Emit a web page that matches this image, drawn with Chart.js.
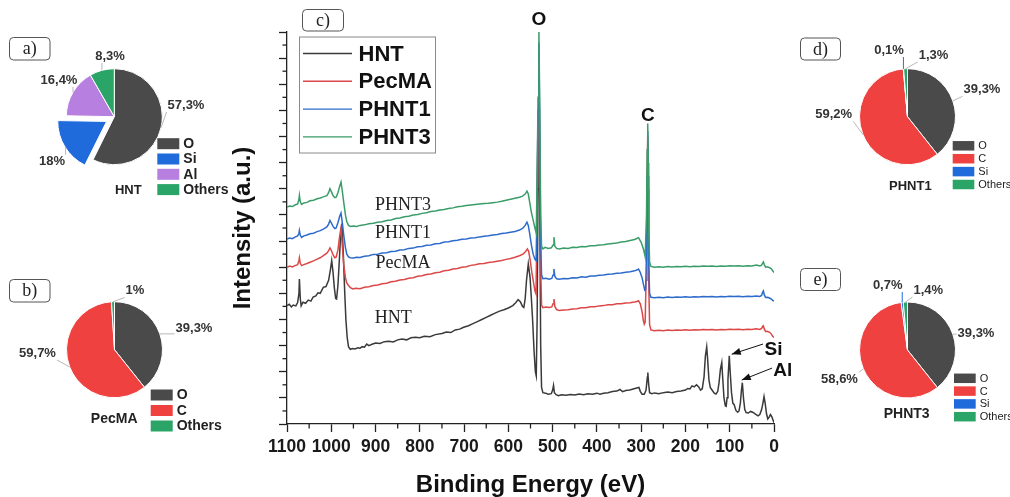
<!DOCTYPE html>
<html><head><meta charset="utf-8">
<script src="https://cdn.jsdelivr.net/npm/chart.js@4.4.0/dist/chart.umd.min.js"></script>
<style>
html,body{margin:0;padding:0;background:#fff;}
#wrap{position:relative;width:1010px;height:497px;overflow:hidden;background:#fff;}
canvas{position:absolute;}
</style></head><body>
<div id="wrap">
<canvas id="main" width="1010" height="497" style="left:0;top:0"></canvas>
<canvas id="pa" width="230" height="240" style="left:0;top:0"></canvas>
<canvas id="pb" width="230" height="247" style="left:0;top:250px"></canvas>
<canvas id="pd" width="220" height="250" style="left:790px;top:0"></canvas>
<canvas id="pe" width="220" height="247" style="left:790px;top:250px"></canvas>
</div>
<script>
// ---------------- XPS survey spectra: [binding energy (eV), intensity (a.u.)] ----------------
const hnt = [[1100,45.3],[1095,45.8],[1090,44.8],[1086,45.5],[1080,45.2],[1076,46.5],[1073,50],[1072,55.5],[1070,48],[1068,45.2],[1064,46.6],[1058,46.2],[1052,47.4],[1046,47],[1041,48.6],[1035,49],[1030,50.2],[1025,50],[1018,52.3],[1012,52.6],[1006,55],[1002,59],[999,62.5],[996,58],[993,52],[990,48],[988,47.8],[985,53],[982,62],[979,72],[976,76.6],[973,66],[970,52],[967,40],[964,33],[961,29.5],[957,28.6],[952,28.9],[946,28.7],[940,29.2],[935,29],[930,29.6],[925,29.4],[920,30.6],[915,30],[908,30.5],[900,31],[890,30.8],[880,31.5],[870,31.7],[860,31.4],[850,32.2],[840,32.5],[830,32.2],[820,33],[810,33.2],[800,33],[790,33.6],[777,33.4],[765,34.2],[750,34.6],[740,35.2],[730,35],[720,36],[710,36.3],[701,37],[690,37.6],[680,38.4],[670,39.2],[660,40],[650,40.8],[640,41.6],[630,42.4],[620,43.2],[610,43.7],[600,44.4],[590,45.3],[583,46.5],[578,47.6],[573,46.8],[568,45],[565,44.6],[562,48],[559,55],[555,61.3],[551,56],[548,48],[545,39],[542,28],[539,20],[537,18.4],[535,40],[533,90],[531,135],[529,80],[527,30],[525,14],[522,12],[516,11.8],[510,11.4],[503,11.6],[500,13],[498,14.8],[496,12],[492,11.2],[487,10.8],[480,11.2],[470,11],[460,11.3],[450,11.1],[440,11.5],[430,11.2],[420,11.6],[410,11.4],[400,11.8],[393,11.4],[385,11.8],[375,12],[365,12.4],[355,12.6],[348,13.2],[342,12.4],[335,12.8],[326,13],[318,13.4],[310,13.8],[305,14],[302,12.5],[298,11.4],[293,11.4],[289,13],[286,18],[285,19.7],[283,15],[281,12],[276,11.6],[270,11.9],[260,11.6],[250,12],[240,12.2],[230,12],[220,12.4],[210,12.6],[200,13],[195,13.6],[190,13.4],[185,14.6],[180,14.2],[175,15],[170,14.2],[166,13],[162,13.5],[158,18],[155,26],[152,29.5],[150,25],[147,17],[144,14],[140,13],[135,11.8],[131,11.5],[127,12.5],[124,16],[121,21],[118,23.5],[116,18],[113,10],[110,7],[108,6.8],[106,10],[104,17],[101,26.1],[99,20],[96,12],[93,8],[90,7.4],[86,5.2],[82,4.5],[79,5],[76,8],[73.5,13],[71.5,15.8],[69,10],[66,5.5],[63,4.4],[58,4.2],[53,4.8],[47,4.4],[42,3.8],[36,3.1],[32,3.6],[28,5.5],[25,8],[22.5,10.5],[20,8],[17,4],[14,1.9],[11,2.6],[8,3.6],[5,2.8],[2,1.4],[0,0.5]];

const pecma = [[1100,60],[1094,60.4],[1088,60.1],[1082,60.6],[1076,61],[1073,62.5],[1072,63.6],[1070,61.5],[1067,60.6],[1062,61],[1055,61.4],[1048,61.9],[1040,62.4],[1032,63.1],[1025,63.6],[1018,64.4],[1010,65.4],[1006,66.3],[1003,67.4],[1000,66.5],[996,64.8],[992,63.6],[989,63.8],[985,66.5],[981,72],[978,75],[975,68],[972,61],[968,56],[965,54],[961,53],[957,52.2],[951,51.7],[945,51.9],[935,51.8],[925,52.3],[915,52.5],[905,53],[895,53.2],[885,53.7],[875,53.9],[865,54.4],[855,54.6],[845,55.1],[835,55.3],[825,55.8],[815,56],[805,56.5],[795,56.7],[785,57.2],[775,57.4],[765,57.9],[755,58.1],[745,58.6],[735,58.8],[725,59.3],[715,59.5],[705,60],[695,60.2],[685,60.7],[675,60.9],[665,61.3],[655,61.4],[645,61.8],[635,62],[625,62.3],[615,62.6],[605,63],[595,63.3],[585,63.8],[575,64.4],[566,65.1],[561,66],[557,67],[554,66],[551,63],[547,58],[543,54],[540,51],[537.5,49.8],[535,85],[533,115],[531,142],[529,100],[527,60],[525,45.5],[522,44.5],[515,44.8],[508,44.6],[502,44.8],[499,46],[497,47.8],[495,45],[491,43.8],[485,43.4],[475,43.6],[465,43.7],[455,44],[445,44.1],[435,44.5],[425,44.5],[415,44.9],[405,44.9],[395,45.2],[385,45.3],[375,45.6],[365,45.6],[355,46],[345,46],[335,46.3],[325,46.4],[315,46.7],[310,46.9],[306,47.2],[302,46],[298,43],[295,39.5],[293,38.2],[291,39],[289,55],[287,90],[285.2,110],[284,90],[283,55],[281,38],[278,36],[270,35.7],[260,35.9],[250,35.7],[240,36],[230,35.8],[220,36],[210,35.9],[200,36.1],[190,35.9],[180,36.1],[170,36],[160,36.2],[150,36.1],[140,36.2],[130,36],[120,36.2],[110,36.1],[100,36.3],[90,36.2],[80,36.3],[70,36.1],[60,36.3],[50,36.2],[40,36.4],[32,36.2],[28,36.6],[25.5,37.4],[24,37.6],[22,36.4],[19,35.4],[15,35.5],[10,35.1],[6,34.4],[3,33.6],[0,33.1]];

const phnt1 = [[1100,70.8],[1094,71.2],[1088,70.9],[1082,71.5],[1076,72],[1073,73],[1072,74],[1070,72.2],[1067,71.4],[1062,72],[1055,72.3],[1048,72.8],[1040,73],[1032,73.6],[1025,74],[1018,74.6],[1010,75.4],[1006,76.5],[1003,77.9],[1000,77],[996,75.6],[992,74.8],[989,75],[985,77],[981,79.5],[978,80.7],[975,77],[972,72.5],[968,67.5],[965,65],[961,63.9],[957,63.6],[950,63.5],[943,63.8],[935,63.7],[925,64.2],[915,64.4],[905,64.9],[895,65],[885,65.4],[875,65.5],[865,66],[855,66.1],[845,66.6],[835,66.7],[825,67.2],[815,67.3],[805,67.8],[795,67.9],[785,68.4],[775,68.5],[765,69],[755,69.1],[745,69.6],[735,69.7],[725,70.1],[715,70.3],[705,70.7],[695,70.8],[685,71.2],[675,71.3],[665,71.6],[655,71.8],[645,72],[635,72.3],[625,72.5],[615,72.9],[605,73.1],[595,73.4],[585,73.7],[575,74.2],[568,74.8],[562,76],[558,77.2],[555,76],[552,73],[548,68.5],[544,65],[540,63],[537,62.5],[535,90],[533,120],[531,146],[529,110],[527,70],[525,57],[522,55.6],[515,55.8],[508,55.4],[502,55.7],[499,57],[497,59.3],[495,56.5],[491,55.6],[485,55.4],[475,55.7],[465,55.6],[455,56],[445,55.9],[435,56.3],[425,56.2],[415,56.6],[405,56.6],[395,56.9],[385,57],[375,57.3],[365,57.4],[355,57.7],[345,57.8],[335,58.1],[325,58.3],[315,58.6],[310,58.9],[306,59.3],[302,58],[298,56],[295,53.5],[292,51.2],[290,51.5],[288,65],[286.5,95],[285.2,112],[284,95],[283,62],[281,50],[278,48.5],[270,48.3],[260,48.5],[250,48.3],[240,48.6],[230,48.4],[220,48.6],[210,48.5],[200,48.7],[190,48.5],[180,48.7],[170,48.6],[160,48.8],[150,48.7],[140,48.8],[130,48.6],[120,48.8],[110,48.7],[100,48.9],[90,48.8],[80,48.9],[70,48.7],[60,48.9],[50,48.8],[40,49],[32,48.8],[28,49.2],[25.5,50.5],[24,50.9],[22,49.5],[19,48.4],[15,48.5],[10,48.2],[6,47.8],[3,47.3],[0,47]];

const phnt3 = [[1100,83],[1094,83.4],[1088,83.2],[1082,83.8],[1076,84.2],[1073,86],[1072,87.5],[1070,85],[1067,84],[1062,84.6],[1055,84.8],[1048,85.4],[1040,85.6],[1032,86.2],[1025,86.5],[1018,86.9],[1010,87.4],[1006,88.5],[1003,90],[1000,89],[996,87.4],[992,86.6],[989,86.8],[985,88.5],[981,91],[978,92.6],[975,89],[972,85],[968,80],[965,77.5],[961,76],[957,75.6],[950,75.8],[943,75.6],[935,76],[925,76.2],[915,76.6],[905,76.8],[895,77.2],[885,77.4],[875,77.9],[865,78.1],[855,78.6],[845,78.8],[835,79.3],[825,79.5],[815,80],[805,80.2],[795,80.6],[785,80.8],[775,81.3],[765,81.5],[755,81.9],[745,82.1],[735,82.5],[725,82.7],[715,83.1],[705,83.3],[695,83.6],[685,83.8],[675,84],[665,84.2],[655,84.4],[645,84.5],[635,84.7],[625,84.9],[615,85.2],[605,85.6],[595,86],[585,86.4],[575,86.8],[568,87.2],[562,88],[558,89.1],[555,88],[552,85],[548,81],[544,78],[540,75],[537,73],[535,95],[533,125],[531,150],[529,120],[527,80],[525,68],[522,67],[517,67.6],[510,67.2],[503,67.4],[499,68.5],[497,71.5],[495,68],[491,67.2],[485,67],[475,67.3],[465,67.2],[455,67.6],[445,67.5],[435,67.9],[425,67.8],[415,68.2],[405,68.2],[395,68.5],[385,68.6],[375,68.9],[365,69.1],[355,69.3],[345,69.6],[335,69.8],[325,70.2],[315,70.6],[310,71],[306,71.3],[300,69.5],[295,67],[291,64],[288,80],[286.5,105],[285.2,115],[284,100],[283,75],[281,62],[278,60.3],[270,60],[260,60.2],[250,60],[240,60.3],[230,60.1],[220,60.3],[210,60.2],[200,60.4],[190,60.2],[180,60.4],[170,60.3],[160,60.5],[150,60.4],[140,60.5],[130,60.3],[120,60.5],[110,60.4],[100,60.6],[90,60.5],[80,60.6],[70,60.4],[60,60.6],[50,60.5],[40,60.8],[32,60.5],[28,60.8],[25.5,61.6],[24,62],[22,61],[19,60],[15,60.2],[10,59.8],[6,59.4],[3,58.6],[0,58]];

const seriesNames = ['HNT','PecMA','PHNT1','PHNT3'];
const seriesData = [hnt, pecma, phnt1, phnt3];
const energyMin = 0, energyMax = 1100, energyStep = 100;
const intensityMin = 0, intensityMax = 150, intensityStep = 10;

// annotations anchored in data coordinates [text, energy, intensity]
const peakLabels = [['O',531,154.5],['C',285,118]];
const curveLabels = [['PHNT3',838,83.8],['PHNT1',838,73.1],['PecMA',838,61.6],['HNT',860,40.6]];
const elementLabels = [['Si',1,28.3],['Al',-20,20.5]];
const elementArrows = [[24.8,30.6,95.5,26.7],[4.4,21.4,72.9,16.8]];

// ---------------- pie compositions ----------------
const hntPieLabels = ['O','Si','Al','Others'];
const hntPieValues = [57.3,18,16.4,8.3];
const pecmaPieLabels = ['O','C','Others'];
const pecmaPieValues = [39.3,59.7,1];
const phnt1PieLabels = ['O','C','Si','Others'];
const phnt1PieValues = [39.3,59.2,0.1,1.3];
const phnt3PieLabels = ['O','C','Si','Others'];
const phnt3PieValues = [39.3,58.6,0.7,1.4];

// ---------------- styles ----------------
const seriesColors = ['#3a3a3a','#dc4747','#2d6bcb','#3a9d69'];
const SANS = '"Liberation Sans", Arial, sans-serif';
const SERIF = '"Liberation Serif", "Times New Roman", serif';
const AXC = '#222';

const panelBoxes = [['a)',9.5,37.5,40.5,22.5],['b)',9.5,279.5,40.5,22.5],['c)',302.5,9.5,41,21.5],['d)',800.5,38,40,22],['e)',800.5,268.5,40,22]];

function roundRect(ctx,x,y,w,h,r){
  ctx.beginPath();
  ctx.moveTo(x+r,y); ctx.lineTo(x+w-r,y); ctx.quadraticCurveTo(x+w,y,x+w,y+r);
  ctx.lineTo(x+w,y+h-r); ctx.quadraticCurveTo(x+w,y+h,x+w-r,y+h);
  ctx.lineTo(x+r,y+h); ctx.quadraticCurveTo(x,y+h,x,y+h-r);
  ctx.lineTo(x,y+r); ctx.quadraticCurveTo(x,y,x+r,y); ctx.closePath();
}
function arrow(ctx,x1,y1,x2,y2){
  ctx.beginPath(); ctx.moveTo(x1,y1); ctx.lineTo(x2,y2); ctx.stroke();
  const a = Math.atan2(y2-y1,x2-x1), L=9, W=3.5;
  ctx.beginPath(); ctx.moveTo(x2,y2);
  ctx.lineTo(x2-L*Math.cos(a)+W*Math.sin(a), y2-L*Math.sin(a)-W*Math.cos(a));
  ctx.lineTo(x2-L*Math.cos(a)-W*Math.sin(a), y2-L*Math.sin(a)+W*Math.cos(a));
  ctx.closePath(); ctx.fill();
}

const mainDecor = {
  id:'mainDecor',
  afterDraw(chart){
    const ctx = chart.ctx, xs = chart.scales.x, ys = chart.scales.y, ca = chart.chartArea;
    ctx.save();
    // minor ticks
    ctx.strokeStyle = AXC; ctx.lineWidth = 1.3;
    for (let e = energyMin + energyStep/2; e < energyMax; e += energyStep){
      const px = xs.getPixelForValue(e);
      ctx.beginPath(); ctx.moveTo(px, ca.bottom); ctx.lineTo(px, ca.bottom+4.5); ctx.stroke();
    }
    for (let v = intensityMin + intensityStep/2; v < intensityMax; v += intensityStep){
      const py = ys.getPixelForValue(v);
      ctx.beginPath(); ctx.moveTo(ca.left-4.5, py); ctx.lineTo(ca.left, py); ctx.stroke();
    }
    // peak labels
    ctx.fillStyle = '#111'; ctx.textAlign='center'; ctx.textBaseline='middle';
    ctx.font = 'bold 19px ' + SANS;
    peakLabels.concat(elementLabels).forEach(([t,e,v])=>{
      ctx.fillText(t, xs.getPixelForValue(e), ys.getPixelForValue(v));
    });
    ctx.font = '18px ' + SERIF; ctx.fillStyle = '#222';
    curveLabels.forEach(([t,e,v])=>{
      ctx.fillText(t, xs.getPixelForValue(e), ys.getPixelForValue(v));
    });
    ctx.strokeStyle = '#111'; ctx.fillStyle = '#111'; ctx.lineWidth = 1;
    elementArrows.forEach(([e1,v1,e2,v2])=>{
      arrow(ctx, xs.getPixelForValue(e1), ys.getPixelForValue(v1), xs.getPixelForValue(e2), ys.getPixelForValue(v2));
    });
    // legend box
    const lx = ca.left + 12.5, ly = 37;
    ctx.strokeStyle = '#8a8a8a'; ctx.lineWidth = 1;
    ctx.strokeRect(lx, ly, 136, 116);
    ctx.font = 'bold 22px ' + SANS; ctx.textAlign='left'; ctx.textBaseline='middle';
    chart.data.datasets.forEach((ds,i)=>{
      const y = ly + 16.5 + i*27.8;
      ctx.strokeStyle = ds.borderColor; ctx.lineWidth = 1.4;
      ctx.beginPath(); ctx.moveTo(lx+3.5, y); ctx.lineTo(lx+52.5, y); ctx.stroke();
      ctx.fillStyle = '#111';
      ctx.fillText(ds.label, lx+59, y+1);
    });
    // panel letter boxes
    ctx.strokeStyle = '#555'; ctx.lineWidth = 1;
    ctx.font = '18px ' + SERIF; ctx.textAlign='center'; ctx.fillStyle='#222';
    panelBoxes.forEach(([t,x,y,w,h])=>{
      roundRect(ctx,x,y,w,h,4); ctx.stroke();
      ctx.fillText(t, x+w/2, y+h/2+1);
    });
    ctx.restore();
  }
};

const axisFont = {family:SANS, weight:'bold', size:17.5};
const titleFont = {family:SANS, weight:'bold', size:24, lineHeight:1};
const gridCfg = {display:true, drawOnChartArea:false, drawTicks:true, tickLength:8, tickColor:AXC, tickWidth:1.3};
const borderCfg = {display:true, color:AXC, width:1.3};

new Chart(document.getElementById('main'), {
  type:'line',
  data:{ datasets: seriesData.map((d,i)=>({
    label: seriesNames[i],
    data: d.map(p=>({x:p[0], y:p[1]})),
    borderColor: seriesColors[i], backgroundColor: seriesColors[i],
    borderWidth: 1.5, pointRadius: 0, fill:false, tension:0, order: 4-i
  }))},
  options:{
    responsive:false, animation:false, devicePixelRatio:1, events:[],
    layout:{padding:{left:231, right:236, top:32, bottom:0}},
    plugins:{legend:{display:false}, tooltip:{enabled:false}},
    scales:{
      x:{type:'linear', min:energyMin, max:energyMax, reverse:true,
        ticks:{stepSize:energyStep, color:'#1a1a1a', font:axisFont, padding:5, maxRotation:0, autoSkip:false,
          callback:(v)=>String(v)},
        grid:gridCfg, border:borderCfg,
        title:{display:true, text:'Binding Energy (eV)', color:'#111', font:titleFont, padding:{top:0,bottom:0}},
        afterFit(s){ s.height = 73; }
      },
      y:{type:'linear', min:intensityMin, max:intensityMax,
        ticks:{stepSize:intensityStep, display:false},
        grid:gridCfg, border:borderCfg,
        title:{display:true, text:'Intensity (a.u.)', color:'#111', font:titleFont, padding:{top:0,bottom:0}},
        afterFit(s){ s.width = 56; }
      }
    }
  },
  plugins:[mainDecor]
});

// ---------------- pies ----------------
function fmtPct(v){ return String(v).replace('.', ',') + '%'; }
const pieDecor = {
  id:'pieDecor',
  afterDraw(chart, args, o){
    const ctx = chart.ctx;
    const meta = chart.getDatasetMeta(0);
    const ds = chart.data.datasets[0];
    const labels = chart.data.labels;
    ctx.save();
    let cx = 0, cy = 0;
    meta.data.forEach((arc,i)=>{
      const p = arc.getProps(['x','y','startAngle','endAngle','outerRadius'], true);
      cx = p.x; cy = p.y;
      const off = ((arc.options && arc.options.offset) || 0) / 4;
      const mid = (p.startAngle + p.endAngle)/2;
      const r = p.outerRadius + off;
      const ex = p.x + Math.cos(mid)*r, ey = p.y + Math.sin(mid)*r;
      const txt = fmtPct(ds.data[i]);
      const lx = p.x + o.labelPos[i][0], ly = p.y + o.labelPos[i][1];
      ctx.font = 'bold 13px ' + SANS;
      const w = ctx.measureText(txt).width;
      const nx = Math.min(Math.max(ex, lx-w/2-1), lx+w/2+1);
      const ny = Math.min(Math.max(ey, ly-7), ly+7);
      ctx.strokeStyle = (o.leaderColors && o.leaderColors[i]) || '#b8b8b8';
      ctx.lineWidth = 1;
      ctx.beginPath(); ctx.moveTo(ex,ey); ctx.lineTo(nx,ny); ctx.stroke();
      ctx.fillStyle = '#333'; ctx.textAlign='center'; ctx.textBaseline='middle';
      ctx.fillText(txt, lx, ly);
    });
    const L = o.legend;
    ctx.textAlign='left'; ctx.textBaseline='middle';
    labels.forEach((lab,i)=>{
      const y = cy + L.dy + i*L.step;
      ctx.fillStyle = ds.backgroundColor[i];
      ctx.fillRect(cx+L.dx, y-L.h/2, L.w, L.h);
      ctx.fillStyle = '#222'; ctx.font = L.font;
      ctx.fillText(lab, cx+L.dx+L.w+L.gap, y+0.5);
    });
    ctx.font = o.titleFont; ctx.textAlign='center'; ctx.fillStyle='#222';
    ctx.fillText(o.title, cx+o.titlePos[0], cy+o.titlePos[1]);
    ctx.restore();
  }
};

function makePie(id, L, T, W, H, cx, cy, labels, values, colors, offsets, deco){
  const lcx = cx - L, lcy = cy - T, half = 60;
  new Chart(document.getElementById(id), {
    type:'pie',
    data:{labels, datasets:[{data:values, backgroundColor:colors, borderColor:'#ffffff', borderWidth:1,
      hoverBorderWidth:1, hoverOffset:0, offset:offsets, radius:48}]},
    options:{
      responsive:false, animation:false, devicePixelRatio:1, events:[],
      layout:{padding:{left:lcx-half, top:lcy-half, right:W-lcx-half, bottom:H-lcy-half}},
      plugins:{legend:{display:false}, tooltip:{enabled:false}, pieDecor:deco}
    },
    plugins:[pieDecor]
  });
}

const cO = '#4a4a4a', cC = '#f04141', cSi = '#1f6bdc', cAl = '#b77fe0', cOth = '#2aa567';
const boldLeg = 'bold 14px ' + SANS, thinLeg = '11px ' + SANS;

makePie('pa', 0, 0, 230, 240, 114.3, 116.7, hntPieLabels, hntPieValues, [cO,cSi,cAl,cOth], [0,36,0,0], {
  labelPos:[[71.7,-11.7],[-62.3,45],[-55.3,-36.7],[-4.3,-60.7]],
  legend:{dx:43, dy:27, step:15.3, w:22, h:11, gap:4, font:boldLeg},
  title:'HNT', titleFont:'bold 13px '+SANS, titlePos:[14,73.3]
});
makePie('pb', 0, 250, 230, 247, 114.5, 349.7, pecmaPieLabels, pecmaPieValues, [cO,cC,cOth], [0,0,0], {
  labelPos:[[79.5,-21.7],[-77,3.3],[20.5,-59.2]],
  legend:{dx:36.2, dy:45.3, step:15.5, w:22, h:11, gap:4, font:boldLeg},
  title:'PecMA', titleFont:'bold 14px '+SANS, titlePos:[-0.3,69.3]
});
makePie('pd', 790, 0, 220, 250, 907.5, 116.7, phnt1PieLabels, phnt1PieValues, [cO,cC,cSi,cOth], [0,0,0,0], {
  labelPos:[[74.5,-27.4],[-73.8,-2.4],[-18.5,-66.7],[26,-61.7]],
  leaderColors:[null,null,'#5a5ad0',null],
  legend:{dx:45.2, dy:29.1, step:12.9, w:21.6, h:9.5, gap:4, font:thinLeg},
  title:'PHNT1', titleFont:'bold 13px '+SANS, titlePos:[2.8,70]
});
makePie('pe', 790, 250, 220, 247, 907.5, 350, phnt3PieLabels, phnt3PieValues, [cO,cC,cSi,cOth], [0,0,0,0], {
  labelPos:[[68.5,-16.7],[-68,29.3],[-19.8,-65],[20.8,-60]],
  leaderColors:[null,null,cSi,null],
  legend:{dx:46.5, dy:28.3, step:12.8, w:21.7, h:9.5, gap:4, font:thinLeg},
  title:'PHNT3', titleFont:'bold 14px '+SANS, titlePos:[-0.8,64.2]
});
</script>
</body></html>
